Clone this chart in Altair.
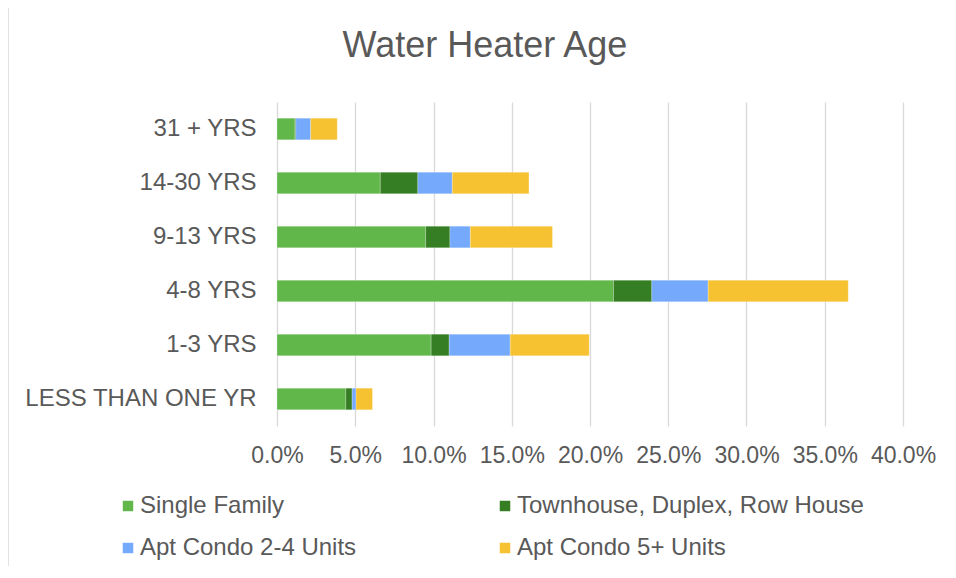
import altair as alt
import pandas as pd

categories = ["31 + YRS", "14-30 YRS", "9-13 YRS", "4-8 YRS", "1-3 YRS", "LESS THAN ONE YR"]
series = ["Single Family", "Townhouse, Duplex, Row House", "Apt Condo 2-4 Units", "Apt Condo 5+ Units"]
single_family = [1.15, 6.6, 9.5, 21.5, 9.85, 4.4]
townhouse = [0.05, 2.4, 1.55, 2.45, 1.15, 0.4]
apt_2_4 = [0.95, 2.2, 1.3, 3.6, 3.9, 0.25]
apt_5plus = [1.7, 4.9, 5.25, 8.95, 5.05, 1.05]
colors = ["#62B74B", "#367E23", "#74A9FC", "#F6C232"]
x_ticks = [0, 0.05, 0.10, 0.15, 0.20, 0.25, 0.30, 0.35, 0.40]

rows = []
for si, (name, vals) in enumerate(zip(series, [single_family, townhouse, apt_2_4, apt_5plus])):
    for c, v in zip(categories, vals):
        rows.append({"age": c, "series": name, "order": si, "value": v / 100})
df = pd.DataFrame(rows)

FONT = "Liberation Sans"
GRAY = "#595959"

border = alt.Chart(pd.DataFrame({"a": [0]})).mark_rect(
    fill=None, stroke="#D9D9D9", strokeWidth=1.5, clip=False
).encode(
    x=alt.value(-269), x2=alt.value(700), y=alt.value(-95), y2=alt.value(600)
)

bars = alt.Chart(df).mark_bar(stroke="white", strokeWidth=0.4, strokeOpacity=0.6).encode(
    y=alt.Y("age:N", sort=categories, title=None,
            scale=alt.Scale(paddingInner=0.6, paddingOuter=0.3),
            axis=alt.Axis(domain=False, ticks=False, labelFont=FONT, labelFontSize=24,
                          labelColor=GRAY, labelPadding=21, grid=False, labelLimit=400)),
    x=alt.X("sum(value):Q", stack="zero", title=None,
            scale=alt.Scale(domain=[0, 0.4], nice=False),
            axis=alt.Axis(values=x_ticks, format=".1%", domain=False, ticks=False,
                          labelFont=FONT, labelFontSize=23, labelColor=GRAY,
                          labelOverlap=False, labelFlush=False,
                          labelPadding=18, grid=True, gridColor="#D9D9D9", gridWidth=1.3)),
    color=alt.Color("series:N", sort=series,
                    scale=alt.Scale(domain=series, range=colors),
                    legend=alt.Legend(title=None, orient="none", legendX=-161, legendY=392,
                                      columns=2, direction="horizontal",
                                      symbolType="square", symbolSize=110, symbolStrokeWidth=0,
                                      labelFont=FONT, labelFontSize=24, labelColor=GRAY,
                                      labelOffset=0, rowPadding=18, columnPadding=136,
                                      labelLimit=500)),
    order=alt.Order("order:Q"),
)

chart = alt.layer(border, bars).properties(
    width=626, height=324,
    padding={"left": 269, "top": 94, "right": 45, "bottom": 140},
    autosize=alt.AutoSizeParams(type="none"),
    title=alt.TitleParams("Water Heater Age", font=FONT, fontSize=36, color=GRAY,
                          fontWeight="normal", anchor="middle", dx=-105, offset=-59),
).configure_view(stroke=None)

chart.save("out.html", embed_options={"renderer": "svg", "actions": False})
